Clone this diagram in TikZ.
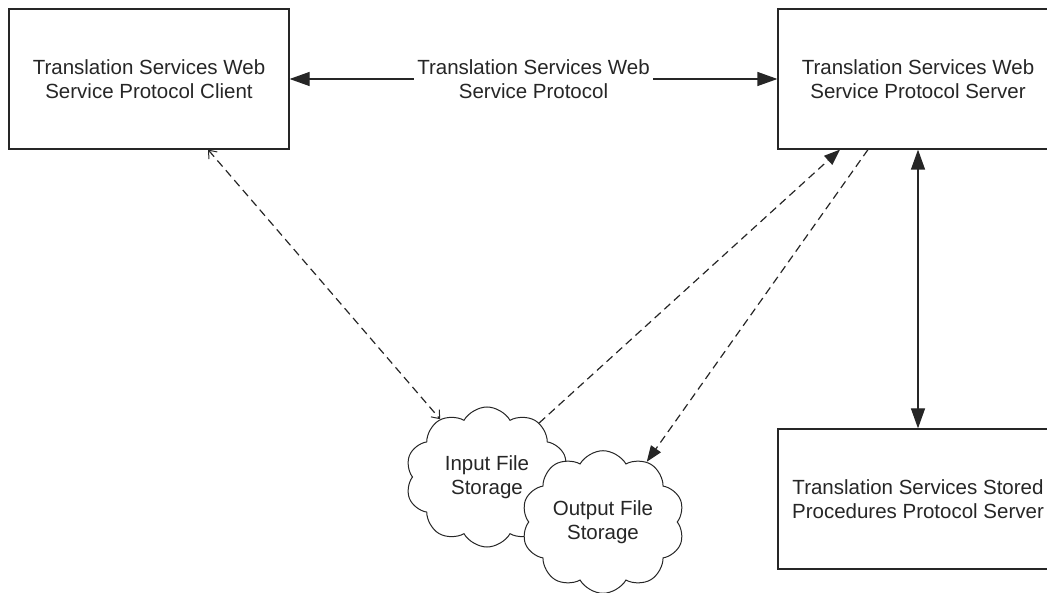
\documentclass[tikz,border=0pt]{standalone}
\usepackage{fontspec}
\setmainfont{Liberation Sans}
\usetikzlibrary{calc,shapes.symbols,arrows.meta}

\begin{document}
\begin{tikzpicture}[x=1pt,y=-1pt,line width=1.2pt,color=black!85,
    every node/.style={font=\fontsize{20.5}{24}\selectfont,align=center,text=black!85},
    sys_box/.style={draw,minimum width=280pt,minimum height=140pt,inner sep=0pt},
    file_store/.style={cloud,draw,fill=white,line width=1pt,cloud puffs=10,cloud puff arc=120,aspect=1.15,
        minimum width=163pt,minimum height=140pt,inner sep=0pt},
    full_tip/.tip={Triangle[length=20pt,width=14pt]},
    dash_tip/.tip={Triangle[length=16pt,width=12pt]},
    open_tip/.tip={Straight Barb[length=7pt,width=11pt,line width=1pt]},
    dash_link/.style={dash pattern=on 8pt off 5pt}]
    \useasboundingbox (0,0) rectangle (1047,593);
    % 
    \node[sys_box] (ts_client) at (149, 79) {Translation Services Web\\Service Protocol Client};
    \node[sys_box] (ts_server) at (918, 79) {Translation Services Web\\Service Protocol Server};
    \node[sys_box] (sp_server) at (918, 499) {Translation Services Stored\\Procedures Protocol Server};
    \node[file_store] (in_store) at (487, 477) {Input File\\Storage};
    \node[file_store] (out_store) at (603, 522) {Output File\\Storage};
    % 
    \draw[full_tip-full_tip] (ts_client.east) -- (ts_server.west)
        node[midway,fill=white,inner sep=3pt] (ws_proto) {Translation Services Web\\Service Protocol};
    \draw[full_tip-full_tip] (ts_server.south) -- (sp_server.north);
    \draw[dash_link,open_tip-open_tip] ([xshift=59pt]ts_client.south) -- (in_store.129);
    \draw[dash_link,-dash_tip] (in_store.46) -- ([xshift=-78pt]ts_server.south);
    \draw[dash_link,-dash_tip] ([xshift=-50pt]ts_server.south) -- (out_store.54);
\end{tikzpicture}
\end{document}
